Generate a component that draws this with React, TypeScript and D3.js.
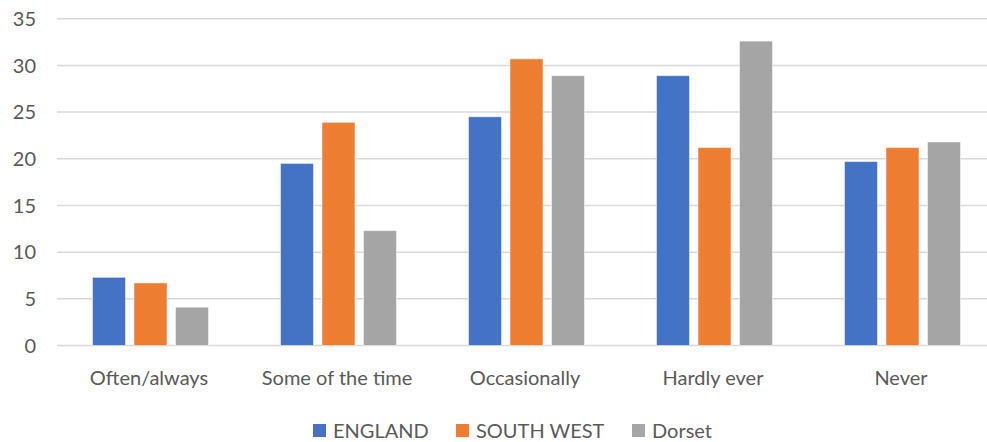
import React from "react";
import * as d3 from "d3";

const categories = ["Often/always", "Some of the time", "Occasionally", "Hardly ever", "Never"];
const seriesNames = ["ENGLAND", "SOUTH WEST", "Dorset"];
const england = [7.3, 19.5, 24.5, 28.9, 19.7];
const southWest = [6.7, 23.9, 30.7, 21.2, 21.2];
const dorset = [4.1, 12.3, 28.9, 32.6, 21.8];
const colors = ["#4472C4", "#ED7D31", "#A5A5A5"];
const yTicks = [0, 5, 10, 15, 20, 25, 30, 35];

const W = 987;
const H = 442;
const FONT = "Lato, 'Liberation Sans', Arial, sans-serif";

export default function App() {
  const series = [england, southWest, dorset];
  const left = 55;
  const right = 995;
  const gridLeft = 57;
  const gridRight = 987;
  const top = 18.7;
  const bottom = 345.5;

  const x = d3.scaleBand<string>().domain(categories).range([left, right]).paddingInner(0).paddingOuter(0);
  const y = d3.scaleLinear().domain([0, 35]).range([bottom, top]);
  const inner = d3
    .scaleBand<string>()
    .domain(seriesNames)
    .range([37.5, 153.5])
    .paddingInner(0.205)
    .paddingOuter(0);

  const legendX = [313, 456, 632];

  return (
    <svg width={W} height={H} style={{ position: "absolute", left: 0, top: 0, background: "#fff" }}>
      {yTicks.map((t) => (
        <g key={t}>
          <line x1={gridLeft} x2={gridRight} y1={y(t)} y2={y(t)} stroke="#D9D9D9" strokeWidth={1.5} />
          <text
            x={36}
            y={y(t)}
            dy="0.36em"
            textAnchor="end"
            fontFamily={FONT}
            fontSize={20}
            fill="#595959"
          >
            {t}
          </text>
        </g>
      ))}
      {categories.map((c, ci) => (
        <g key={c}>
          {series.map((s, si) => (
            <rect
              key={si}
              x={(x(c) as number) + (inner(seriesNames[si]) as number)}
              y={y(s[ci])}
              width={inner.bandwidth()}
              height={y(0) - y(s[ci])}
              fill={colors[si]}
              stroke="#ffffff"
              strokeOpacity={0.5}
              strokeWidth={1}
            />
          ))}
          <text
            x={(x(c) as number) + x.bandwidth() / 2}
            y={378}
            dy="0.36em"
            textAnchor="middle"
            fontFamily={FONT}
            fontSize={20}
            fill="#595959"
          >
            {c}
          </text>
        </g>
      ))}
      {seriesNames.map((n, i) => (
        <g key={n}>
          <rect x={legendX[i]} y={424} width={13} height={13} fill={colors[i]} />
          <text x={legendX[i] + 20} y={431} dy="0.36em" fontFamily={FONT} fontSize={20} fill="#595959">
            {n}
          </text>
        </g>
      ))}
    </svg>
  );
}
